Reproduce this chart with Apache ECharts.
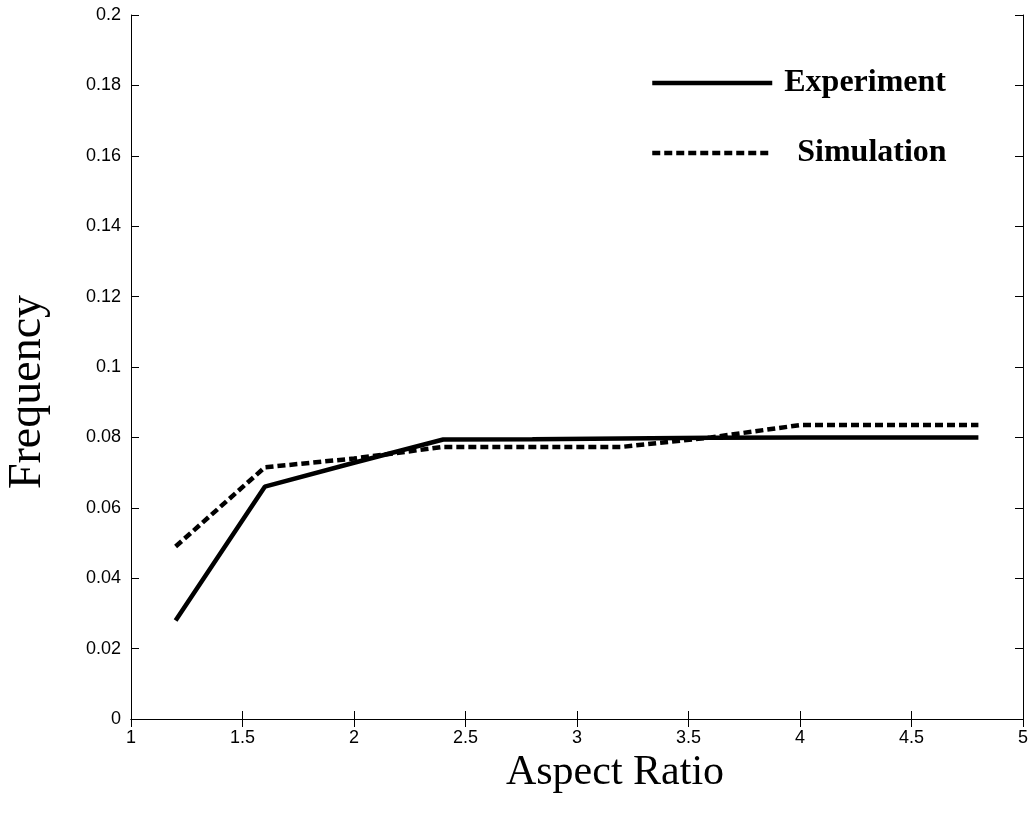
<!DOCTYPE html>
<html>
<head>
<meta charset="utf-8">
<script src="https://cdn.jsdelivr.net/npm/echarts@6/dist/echarts.min.js"></script>
<style>
  html, body { margin: 0; padding: 0; background: #fff; }
</style>
</head>
<body>
<!-- chart container -->
<div id="main" style="width: 1029px; height: 820px;"></div>
<script>
var aspectRatio = [1.2, 1.6, 2.0, 2.4, 2.8, 3.2, 3.6, 4.0, 4.4, 4.8]
var experiment = [0.028, 0.066, 0.0728, 0.0794, 0.0795, 0.0797, 0.0799, 0.080, 0.080, 0.080]
var simulation = [0.049, 0.0715, 0.074, 0.0773, 0.0773, 0.0773, 0.080, 0.0835, 0.0835, 0.0835]

function pairs (xs, ys) {
  var out = []
  for (var i = 0; i < xs.length; i++) {
    out.push([xs[i], ys[i]])
  }
  return out
}

var tickFont = { fontFamily: 'Liberation Sans', fontSize: 18, color: '#000' }
var axisLine = { show: true, lineStyle: { color: '#000', width: 1 } }
var axisTick = { show: true, inside: true, length: 8, lineStyle: { color: '#000', width: 1 } }
var legendText = { fontFamily: 'Liberation Serif', fontWeight: 'bold', fontSize: 32, color: '#000' }

var option = {
  animation: false,
  backgroundColor: '#fff',
  grid: { left: 131, right: 6, top: 15, bottom: 101, outerBoundsMode: 'none', containLabel: false },
  legend: [
    {
      data: ['Experiment'],
      left: 645,
      top: 62,
      itemWidth: 120,
      itemHeight: 30,
      selectedMode: false,
      itemStyle: { opacity: 0 },
      lineStyle: { width: 4.5, type: 'solid' },
      textStyle: Object.assign({ padding: [0, 0, 0, 7] }, legendText)
    },
    {
      data: ['Simulation'],
      left: 645,
      top: 132,
      itemWidth: 116,
      itemHeight: 30,
      selectedMode: false,
      itemStyle: { opacity: 0 },
      lineStyle: { width: 4.5, type: [8, 4] },
      textStyle: Object.assign({ padding: [0, 0, 0, 24] }, legendText)
    }
  ],
  xAxis: [
    {
      type: 'value',
      min: 1,
      max: 5,
      interval: 0.5,
      name: 'Aspect Ratio',
      nameLocation: 'middle',
      nameGap: 32,
      nameTextStyle: { fontFamily: 'Liberation Serif', fontSize: 42, color: '#000', padding: [0, 0, 0, 76] },
      axisLine: axisLine,
      axisTick: axisTick,
      axisLabel: Object.assign({ margin: 10 }, tickFont),
      splitLine: { show: false }
    },
    {
      type: 'value',
      position: 'top',
      min: 1,
      max: 5,
      interval: 0.5,
      axisLine: axisLine,
      axisTick: axisTick,
      axisLabel: { show: false },
      splitLine: { show: false }
    }
  ],
  yAxis: [
    {
      type: 'value',
      min: 0,
      max: 0.2,
      interval: 0.02,
      name: 'Frequency',
      nameLocation: 'middle',
      nameGap: 80,
      nameTextStyle: { fontFamily: 'Liberation Serif', fontSize: 46, color: '#000', padding: [0, 50, 0, 0] },
      axisLine: axisLine,
      axisTick: axisTick,
      axisLabel: Object.assign({ margin: 10 }, tickFont),
      splitLine: { show: false }
    },
    {
      type: 'value',
      position: 'right',
      min: 0,
      max: 0.2,
      interval: 0.02,
      axisLine: axisLine,
      axisTick: axisTick,
      axisLabel: { show: false },
      splitLine: { show: false }
    }
  ],
  series: [
    {
      name: 'Experiment',
      type: 'line',
      data: pairs(aspectRatio, experiment),
      symbol: 'none',
      color: '#000',
      lineStyle: { color: '#000', width: 4.5, type: 'solid' }
    },
    {
      name: 'Simulation',
      type: 'line',
      data: pairs(aspectRatio, simulation),
      symbol: 'none',
      color: '#000',
      lineStyle: { color: '#000', width: 4.5, type: [8, 4] }
    }
  ]
}

var chart = echarts.init(document.getElementById('main'))
chart.setOption(option)
</script>
</body>
</html>
